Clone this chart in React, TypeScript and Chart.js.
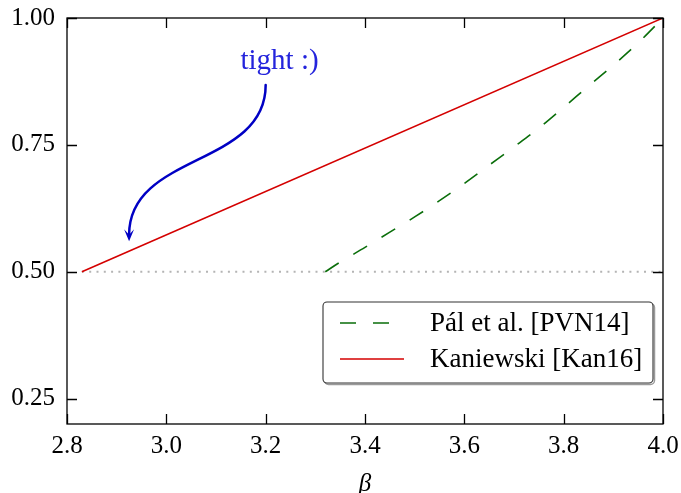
import React, { useEffect, useRef } from 'react';
import { Chart, registerables } from 'chart.js';

Chart.register(...registerables);

// ---- data ----
const palBeta = [3.32, 3.35, 3.4, 3.45, 3.5, 3.55, 3.6, 3.65, 3.7, 3.75, 3.8, 3.85, 3.9, 3.95, 4.0];
const palValues = [0.5, 0.519, 0.548, 0.578, 0.608, 0.64, 0.674, 0.71, 0.746, 0.783, 0.824, 0.866, 0.907, 0.951, 1.0];
const kanBeta = [2.83, 4.0];
const kanValues = [0.5, 1.0];
const refBeta = [2.83, 4.0];
const refValues = [0.5, 0.5];
const xTicks = [2.8, 3.0, 3.2, 3.4, 3.6, 3.8, 4.0];
const yTicks = [0.25, 0.5, 0.75, 1.0];
const seriesLabels = ['Pál et al. [PVN14]', 'Kaniewski [Kan16]'];
const annotationText = 'tight :)';
const annotationTextAt = [3.228, 0.9];
const annotationFrom = [3.2, 0.868];
const annotationTo = [2.925, 0.56];

const FONT = "'Liberation Serif', 'DejaVu Serif', serif";
const GREEN = '#0a6e0a';
const RED = '#d40000';

const toPts = (xs: number[], ys: number[]) => xs.map((x, i) => ({ x, y: ys[i] }));

const decorPlugin = {
  id: 'decor',
  afterDatasetsDraw(chart: any) {
    const { ctx, chartArea, scales } = chart;
    const { left, right, top, bottom } = chartArea;
    const x = scales.x;
    const y = scales.y;
    ctx.save();
    // frame
    ctx.strokeStyle = '#000';
    ctx.lineWidth = 1.3;
    ctx.strokeRect(left, top, right - left, bottom - top);
    // inward ticks
    ctx.beginPath();
    const tl = 10;
    xTicks.forEach((v) => {
      const px = Math.round(x.getPixelForValue(v)) + 0.5;
      ctx.moveTo(px, bottom);
      ctx.lineTo(px, bottom - tl);
      ctx.moveTo(px, top);
      ctx.lineTo(px, top + tl);
    });
    yTicks.forEach((v) => {
      const py = Math.round(y.getPixelForValue(v)) + 0.5;
      ctx.moveTo(left, py);
      ctx.lineTo(left + tl, py);
      ctx.moveTo(right, py);
      ctx.lineTo(right - tl, py);
    });
    ctx.stroke();

    // annotation arrow
    const sx = x.getPixelForValue(annotationFrom[0]);
    const sy = y.getPixelForValue(annotationFrom[1]);
    const ex = x.getPixelForValue(annotationTo[0]);
    const ey = y.getPixelForValue(annotationTo[1]);
    const headLen = 12;
    const notch = 6.5;
    const d = 82;
    ctx.strokeStyle = '#0000c4';
    ctx.lineWidth = 2.5;
    ctx.lineCap = 'round';
    ctx.beginPath();
    ctx.moveTo(sx, sy);
    ctx.bezierCurveTo(sx, sy + d, ex, ey - notch - d, ex, ey - notch);
    ctx.stroke();
    ctx.fillStyle = '#0000c4';
    ctx.beginPath();
    ctx.moveTo(ex, ey);
    ctx.lineTo(ex - 5, ey - headLen);
    ctx.lineTo(ex, ey - notch);
    ctx.lineTo(ex + 5, ey - headLen);
    ctx.closePath();
    ctx.fill();

    ctx.fillStyle = '#2424dc';
    ctx.font = `29px ${FONT}`;
    ctx.textAlign = 'center';
    ctx.textBaseline = 'alphabetic';
    ctx.fillText(annotationText, x.getPixelForValue(annotationTextAt[0]), y.getPixelForValue(annotationTextAt[1]));

    // legend
    const bx = right - 340;
    const by = bottom - 122;
    const bw = 330;
    const bh = 81;
    const r = 4;
    const rr = (ox: number, oy: number) => {
      ctx.beginPath();
      ctx.moveTo(ox + r, oy);
      ctx.lineTo(ox + bw - r, oy);
      ctx.arcTo(ox + bw, oy, ox + bw, oy + r, r);
      ctx.lineTo(ox + bw, oy + bh - r);
      ctx.arcTo(ox + bw, oy + bh, ox + bw - r, oy + bh, r);
      ctx.lineTo(ox + r, oy + bh);
      ctx.arcTo(ox, oy + bh, ox, oy + bh - r, r);
      ctx.lineTo(ox, oy + r);
      ctx.arcTo(ox, oy, ox + r, oy, r);
      ctx.closePath();
    };
    ctx.lineWidth = 1.5;
    ctx.strokeStyle = '#9a9a9a';
    rr(bx + 1.5, by + 1.5);
    ctx.stroke();
    ctx.fillStyle = '#fff';
    rr(bx, by);
    ctx.fill();
    ctx.strokeStyle = '#333';
    ctx.lineWidth = 1.1;
    ctx.stroke();

    const row1 = by + 21;
    const row2 = by + 57;
    ctx.lineCap = 'butt';
    ctx.lineWidth = 1.6;
    ctx.strokeStyle = GREEN;
    ctx.setLineDash([16, 17]);
    ctx.beginPath();
    ctx.moveTo(bx + 17, row1);
    ctx.lineTo(bx + 81, row1);
    ctx.stroke();
    ctx.setLineDash([]);
    ctx.strokeStyle = RED;
    ctx.beginPath();
    ctx.moveTo(bx + 17, row2);
    ctx.lineTo(bx + 81, row2);
    ctx.stroke();

    ctx.fillStyle = '#000';
    ctx.font = `27px ${FONT}`;
    ctx.textAlign = 'left';
    ctx.textBaseline = 'middle';
    ctx.fillText(seriesLabels[0], bx + 107, row1 + 1);
    ctx.fillText(seriesLabels[1], bx + 107, row2 + 1);
    ctx.restore();
  },
};

export default function App() {
  const ref = useRef<HTMLCanvasElement | null>(null);
  useEffect(() => {
    if (!ref.current) return;
    const chart = new Chart(ref.current, {
      type: 'line',
      data: {
        datasets: [
          {
            label: seriesLabels[1],
            data: toPts(kanBeta, kanValues),
            borderColor: RED,
            borderWidth: 1.6,
            pointRadius: 0,
            fill: false,
          },
          {
            label: seriesLabels[0],
            data: toPts(palBeta, palValues),
            borderColor: GREEN,
            borderWidth: 1.6,
            borderDash: [16, 17],
            pointRadius: 0,
            cubicInterpolationMode: 'monotone',
            fill: false,
          },
          {
            label: 'ref',
            data: toPts(refBeta, refValues),
            borderColor: '#b4b4b4',
            borderWidth: 2,
            borderDash: [2, 5.3],
            pointRadius: 0,
            fill: false,
          },
        ],
      },
      options: {
        responsive: false,
        animation: false,
        events: [],
        layout: { padding: { top: 18, right: 18, left: 0, bottom: 0 } },
        plugins: { legend: { display: false }, tooltip: { enabled: false } },
        scales: {
          x: {
            type: 'linear',
            min: 2.8,
            max: 4.0,
            afterBuildTicks: (s: any) => {
              s.ticks = xTicks.map((v) => ({ value: v }));
            },
            afterFit: (s: any) => {
              s.height = 69;
              s.paddingLeft = 0;
              s.paddingRight = 0;
            },
            grid: { display: false, drawTicks: false },
            border: { display: false },
            ticks: {
              color: '#000',
              padding: 7,
              maxRotation: 0,
              font: { family: FONT, size: 25 },
              callback: (v: any) => Number(v).toFixed(1),
            },
            title: {
              display: true,
              text: 'β',
              color: '#000',
              font: { family: FONT, size: 25, style: 'italic' },
              padding: { top: 0, bottom: -6 },
            },
          },
          y: {
            type: 'linear',
            min: 0.2,
            max: 1.0,
            afterBuildTicks: (s: any) => {
              s.ticks = yTicks.map((v) => ({ value: v }));
            },
            afterFit: (s: any) => {
              s.width = 67;
              s.paddingTop = 0;
              s.paddingBottom = 0;
            },
            grid: { display: false, drawTicks: false },
            border: { display: false },
            ticks: {
              color: '#000',
              padding: 12,
              font: { family: FONT, size: 25 },
              callback: (v: any) => Number(v).toFixed(2),
            },
          },
        },
      },
      plugins: [decorPlugin],
    } as any);
    return () => chart.destroy();
  }, []);
  return (
    <div style={{ position: 'absolute', left: 0, top: 0, width: 681, height: 493, background: '#fff' }}>
      <canvas ref={ref} width={681} height={493} style={{ display: 'block' }} />
    </div>
  );
}
